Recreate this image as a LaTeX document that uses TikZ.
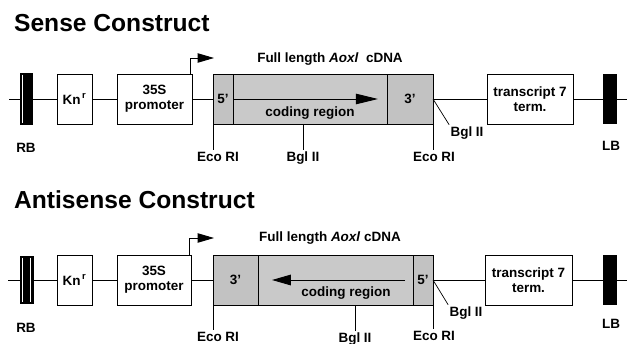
\documentclass[tikz,border=0pt]{standalone}
\usepackage{fontspec}
\setmainfont{Liberation Sans}
\usetikzlibrary{arrows.meta,positioning}

\begin{document}
\begin{tikzpicture}[
  x=0.03cm, y=-0.03cm,
  font=\fontsize{11.5}{13}\selectfont\bfseries,
  dna/.style={line width=0.8pt},
  part/.style={draw, fill=white, line width=0.8pt, outer sep=0pt, inner sep=1pt,
    minimum height=1.5cm, align=center},
  border/.style={fill=black, minimum width=0.42cm, minimum height=1.5cm,
    inner sep=0pt, outer sep=0pt},
  cdna/.style={draw, fill=black!24, line width=0.7pt, outer sep=0pt, inner sep=0pt,
    minimum height=1.5cm},
  coding/.style={cdna, fill=black!21},
  title/.style={font=\fontsize{21}{24}\selectfont\bfseries, anchor=base west},
  lbl/.style={inner sep=1pt, text height=1.6ex, text depth=0.3ex},
  tick/.style={line width=0.6pt},
  stripe/.style={white, line width=0.7pt}
]
\useasboundingbox (0,0) rectangle (627,344);

% Sense construct
\node[title] (sTitle) at (10,32) {Sense Construct};

\coordinate (sStart) at (9,99);
\coordinate (sEnd) at (627,99);
\node[border, minimum width=0.39cm, minimum height=1.56cm] (sRB) at (26.5,99) {};
\node[part, minimum width=1.05cm] (sKn) at (74.5,99) {Kn\textsuperscript{\,r}};
\node[part, minimum width=2.25cm] (sProm) at (154.5,99) {35S\\promoter};
\node[cdna, minimum width=0.6cm] (s5) at (223,99) {5'};
\node[coding, minimum width=4.62cm, right=0pt of s5] (sCod) {};
\node[cdna, minimum width=1.38cm, right=0pt of sCod] (s3) {3'};
\node[part, minimum width=2.58cm] (sTerm) at (530,99) {transcript 7\\term.};
\node[border] (sLB) at (610,99) {};
\draw[stripe] ([xshift=-0.13cm,yshift=-0.05cm]sRB.north) -- ([xshift=-0.13cm,yshift=0.05cm]sRB.south);

\draw[dna] (sStart) -- (sRB) -- (sKn) -- (sProm) -- (s5);
\draw[dna] (s3) -- (sTerm) -- (sLB) -- (sEnd);

% promoter start and coding direction
\coordinate (sTss) at (214,58);
\draw[dna, -{Triangle[length=14pt,width=8pt]}] ([xshift=-0.06cm]sProm.north east) |- (sTss);
\draw[dna, -{Triangle[length=19pt,width=9pt]}] (sCod.west) -- ([xshift=-0.27cm]sCod.east);
\node (sFull) at (330,59) {Full length \textit{Aoxl} \ cDNA};
\node (sCodTxt) at (310,113) {coding region};

% sites
\node[lbl] (sRBl) at (26,148) {RB};
\node[lbl] (sLBl) at (611,146) {LB};
\node[lbl] (sEco1) at (218,157) {Eco RI};
\node[lbl] (sBgl1) at (303,157) {Bgl II};
\node[lbl] (sEco2) at (434,157) {Eco RI};
\node[lbl] (sBgl2) at (467,132) {Bgl II};
\draw[tick] (s5.south west) -- (s5.south west |- sEco1.north);
\draw[tick] (sCod.south -| sBgl1.north) -- (sBgl1.north);
\draw[tick] (s3.south east) -- (s3.south east |- sEco2.north);
\draw[tick] (s3.east) -- (sBgl2.north west);

% Antisense construct
\node[title] (aTitle) at (10,208) {Antisense Construct};

\coordinate (aStart) at (8,280);
\coordinate (aEnd) at (627,280);
\node[border, minimum width=0.42cm, minimum height=1.44cm] (aRB) at (26.5,280) {};
\node[part, minimum width=1.05cm] (aKn) at (74.5,280) {Kn\textsuperscript{\,r}};
\node[part, minimum width=2.22cm] (aProm) at (154,280) {35S\\promoter};
\node[cdna, minimum width=1.35cm] (a3) at (235.5,280) {3'};
\node[coding, minimum width=4.65cm, right=0pt of a3] (aCod) {};
\node[cdna, minimum width=0.6cm, right=0pt of aCod] (a5) {5'};
\node[part, minimum width=2.61cm] (aTerm) at (528.5,280) {transcript 7\\term.};
\node[border] (aLB) at (610,280) {};
\draw[stripe] ([xshift=-0.11cm,yshift=-0.05cm]aRB.north) -- ([xshift=-0.11cm,yshift=0.05cm]aRB.south);
\draw[stripe] ([xshift=0.11cm,yshift=-0.05cm]aRB.north) -- ([xshift=0.11cm,yshift=0.05cm]aRB.south);

\draw[dna] (aStart) -- (aRB) -- (aKn) -- (aProm) -- (a3);
\draw[dna] (a5) -- (aTerm) -- (aLB) -- (aEnd);

\coordinate (aTss) at (214,238);
\draw[dna, -{Triangle[length=14pt,width=8pt]}] ([xshift=-0.06cm]aProm.north east) |- (aTss);
\draw[dna, -{Triangle[length=16pt,width=9pt]}] ([xshift=-0.24cm]aCod.east) -- ([xshift=0.42cm]aCod.west);
\node (aFull) at (330,238) {Full length \textit{Aoxl} cDNA};
\node (aCodTxt) at (346,293) {coding region};

\node[lbl] (aRBl) at (26,328) {RB};
\node[lbl] (aLBl) at (611,324) {LB};
\node[lbl] (aEco1) at (218,337) {Eco RI};
\node[lbl] (aBgl1) at (355,338) {Bgl II};
\node[lbl] (aEco2) at (434,336) {Eco RI};
\node[lbl] (aBgl2) at (466,312) {Bgl II};
\draw[tick] (a3.south west) -- (a3.south west |- aEco1.north);
\draw[tick] (aCod.south -| aBgl1.north) -- (aBgl1.north);
\draw[tick] (a5.south east) -- (a5.south east |- aEco2.north);
\draw[tick] (a5.east) -- (aBgl2.north west);

\end{tikzpicture}
\end{document}
